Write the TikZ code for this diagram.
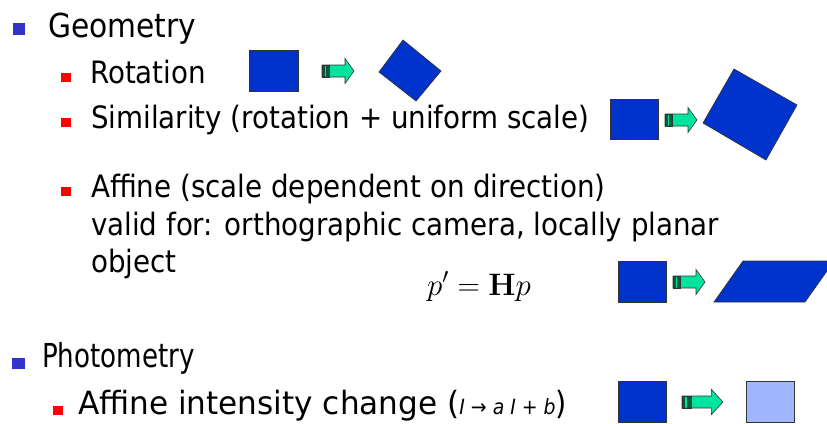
\documentclass[tikz,border=0pt]{standalone}
\usepackage{fix-cm}
\usepackage[no-math]{fontspec}
\setmainfont{DejaVu Sans Condensed}
\definecolor{shapeblue}{RGB}{0,51,204}
\definecolor{lightblue}{RGB}{160,182,255}
\definecolor{bulletblue}{RGB}{51,51,204}
\definecolor{arrowgreen}{RGB}{0,228,160}
\definecolor{arrowdark}{RGB}{0,90,60}
\tikzset{
  lvlone/.style={anchor=base west, inner sep=0pt, font=\fontsize{33}{40}\selectfont},
  lvltwo/.style={anchor=base west, inner sep=0pt, font=\fontsize{30.8}{37}\selectfont},
  blueshape/.style={fill=shapeblue, draw=black!80, line width=0.7pt},
  fatarrow/.pic={
    \draw[fill=arrowgreen, draw=black!80, line width=0.6pt] (0,-6) -- (23,-6) -- (23,-12.5) -- (32,0) -- (23,12.5) -- (23,6) -- (0,6) -- cycle;
    \fill[arrowdark] (0,-6) rectangle (2.5,6);
    \fill[arrowdark] (4,-6) rectangle (7,6);
    \draw[draw=black!80, line width=0.6pt] (0,-6) rectangle (7,6);
  }
}
\begin{document}
\begin{tikzpicture}[x=1pt, y=-1pt]
\useasboundingbox (0,0) rectangle (827,423);
% Geometry
\fill[bulletblue] (13,23) rectangle (25,35);
\node[lvlone] (geom) at (48,37) {Geometry};
\fill[red] (61,73) rectangle (71,82);
\node[lvltwo] (rot) at (90,83) {Rotation};
\draw[blueshape] (249,50) rectangle (298,91);
\pic at (322,71) {fatarrow};
\draw[blueshape] (379,72) -- (403,40) -- (441,71) -- (416,101) -- cycle;
\fill[red] (61,118) rectangle (71,127);
\node[lvltwo] (simil) at (91,128) {Similarity (rotation + uniform scale)};
\draw[blueshape] (610,99) rectangle (658,139);
\pic at (665,120) {fatarrow};
\draw[blueshape] (703,123) -- (734,69) -- (797,105) -- (766,160) -- cycle;
\fill[red] (61,187) rectangle (71,196);
\node[lvltwo] (affine) at (91,197) {Affine (scale dependent on direction)};
\node[lvltwo] (valid) at (91,235) {valid for: orthographic camera, locally planar};
\node[lvltwo] (object) at (91,272) {object};
\node[lvltwo, font=\fontsize{31}{37}\selectfont] (formula) at (427,295) {$p' = \mathbf{H}p$};
\draw[blueshape] (618,261) rectangle (666,302);
\pic at (673,282) {fatarrow};
\draw[blueshape] (714,302) -- (743,261) -- (834,261) -- (805,302) -- cycle;
% Photometry
\fill[bulletblue] (12,358) rectangle (25,369);
\node[lvlone] (photo) at (42,367) {\scalebox{0.88}[1]{Photometry}};
\fill[red] (53,406) rectangle (63,415);
\node[lvltwo, font=\fontsize{32}{37}\selectfont] (intens) at (78,414) {\scalebox{1.08}[1]{Affine intensity change (}{\fontsize{21}{25}\selectfont\itshape I {\upshape →} a I + b})};
\draw[blueshape] (618,381) rectangle (666,422);
\pic[xscale=1.28] at (682,402) {fatarrow};
\draw[fill=lightblue, draw=black!80, line width=0.7pt] (746,381) rectangle (794,422);
\end{tikzpicture}
\end{document}
